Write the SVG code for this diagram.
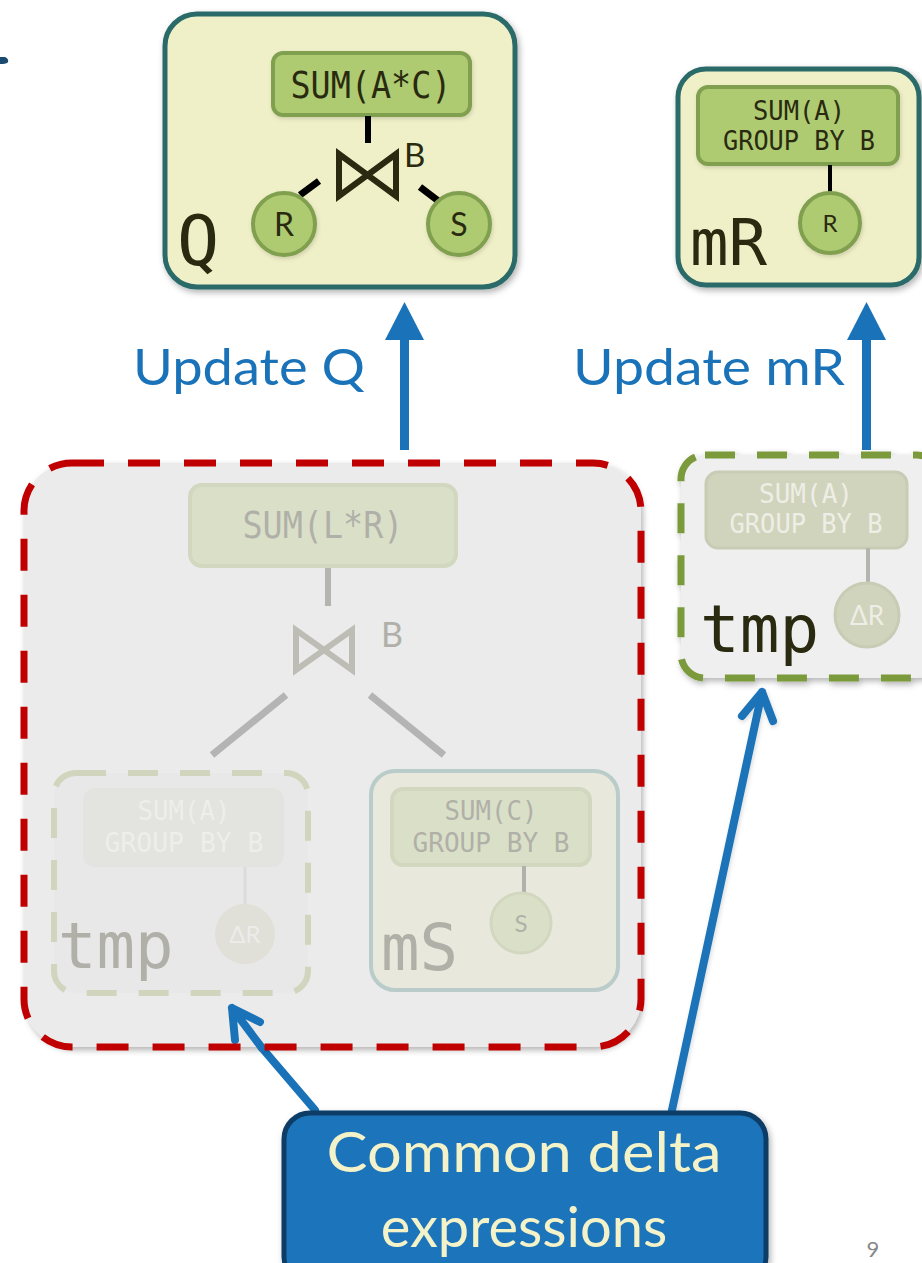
<svg xmlns="http://www.w3.org/2000/svg" width="922" height="1263" viewBox="0 0 922 1263">
<style>
.mono{font-family:"DejaVu Sans Mono","Liberation Mono",monospace}
.sans{font-family:Lato,"Liberation Sans",sans-serif}
.op{fill:#aecb72;stroke:#80a050;stroke-width:4}
.leaf{fill:#aecb72;stroke:#80a050;stroke-width:4}
.dark{fill:#2a2a10}
.blue{fill:#1a73b8}
.fop{fill:#dae0c8;stroke:#d2d8c0;stroke-width:4}
.ftxt{fill:#b0b0a8}
.conn{stroke:#1a73b8;stroke-width:8;fill:none;stroke-linecap:round;stroke-linejoin:round}
</style>
<defs>
<filter id="sh" x="-20%" y="-20%" width="140%" height="140%">
<feDropShadow dx="2" dy="3" stdDeviation="3" flood-color="#000" flood-opacity="0.3"/>
</filter>
<filter id="sh2" x="-20%" y="-20%" width="140%" height="140%">
<feDropShadow dx="1" dy="2" stdDeviation="2" flood-color="#000" flood-opacity="0.15"/>
</filter>
</defs>
<rect width="922" height="1263" fill="#ffffff"/>
<path d="M0,57 L5,57 Q9,59 8,62 Q7,64 0,64 Z" fill="#1a4a70"/>

<g id="connectors">
<path class="conn" d="M315,1110 L262,1048"/>
<path class="conn" d="M672,1110 L762,692 M742,716 L762,692 L773,721" filter="url(#sh2)"/>
<rect x="400" y="338" width="9" height="112" fill="#1a73b8"/>
<polygon points="385,340 424,340 404.5,302" fill="#1a73b8"/>
<rect x="862" y="338" width="9" height="112" fill="#1a73b8"/>
<polygon points="847,340 886,340 866.5,302" fill="#1a73b8"/>
</g>

<g id="nodeQ">
<rect x="165" y="14" width="350" height="273" rx="32" fill="#f0f0c8" stroke="#2b6b69" stroke-width="5" filter="url(#sh)"/>
<rect x="273" y="53" width="197" height="62" rx="10" class="op" filter="url(#sh2)"/>
<text x="371" y="98" text-anchor="middle" class="mono dark" font-size="38" textLength="161" lengthAdjust="spacingAndGlyphs">SUM(A*C)</text>
<line x1="368" y1="116" x2="368" y2="143" stroke="#000" stroke-width="6"/>
<path d="M339,154 L339,196 L396,154 L396,196 Z" fill="none" stroke="#2a2a10" stroke-width="6" stroke-linejoin="miter"/>
<text x="404" y="167" class="sans dark" font-size="33">B</text>
<line x1="300" y1="195" x2="319" y2="181" stroke="#000" stroke-width="7"/>
<line x1="420" y1="187" x2="441" y2="203" stroke="#000" stroke-width="7"/>
<circle cx="284" cy="224" r="31" class="leaf" filter="url(#sh2)"/>
<text x="284" y="236" text-anchor="middle" class="sans dark" font-size="32">R</text>
<circle cx="459" cy="224" r="31" class="leaf" filter="url(#sh2)"/>
<text x="459" y="236" text-anchor="middle" class="sans dark" font-size="32">S</text>
<text x="177" y="265" class="mono dark" font-size="70">Q</text>
</g>

<g id="nodeMR">
<rect x="678" y="69" width="241" height="216" rx="28" fill="#f0f0c8" stroke="#2b6b69" stroke-width="5" filter="url(#sh)"/>
<rect x="698" y="87" width="200" height="77" rx="10" class="op" filter="url(#sh2)"/>
<text x="799" y="120" text-anchor="middle" class="mono dark" font-size="26" textLength="92" lengthAdjust="spacingAndGlyphs">SUM(A)</text>
<text x="799" y="150" text-anchor="middle" class="mono dark" font-size="26" textLength="152" lengthAdjust="spacingAndGlyphs">GROUP BY B</text>
<line x1="830" y1="165" x2="830" y2="193" stroke="#000" stroke-width="4"/>
<circle cx="830" cy="223" r="30" class="leaf" filter="url(#sh2)"/>
<text x="830" y="232" text-anchor="middle" class="sans dark" font-size="24">R</text>
<text x="690" y="265" class="mono dark" font-size="64">mR</text>
</g>

<text x="133" y="385" class="sans blue" font-size="50" textLength="232" lengthAdjust="spacingAndGlyphs">Update Q</text>
<text x="573" y="385" class="sans blue" font-size="50" textLength="272" lengthAdjust="spacingAndGlyphs">Update mR</text>

<g id="deltaQ">
<rect x="24" y="463" width="617" height="584" rx="48" fill="#ebebeb" filter="url(#sh)"/>
<path class="conn" d="M262,1048 L232,1008 M235,1040 L232,1008 L260,1022" stroke="#b0cce2"/>
<rect x="24" y="463" width="617" height="584" rx="48" fill="none" stroke="#c00000" stroke-width="7" stroke-dasharray="32 24"/>
<rect x="190" y="485" width="266" height="81" rx="12" class="fop"/>
<text x="323" y="538" text-anchor="middle" class="mono ftxt" font-size="38" textLength="161" lengthAdjust="spacingAndGlyphs">SUM(L*R)</text>
<line x1="328" y1="568" x2="328" y2="606" stroke="#b4b4b0" stroke-width="6"/>
<path d="M296,630 L296,670 L352,630 L352,670 Z" fill="none" stroke="#bdbdb5" stroke-width="6"/>
<text x="381" y="647" class="sans ftxt" font-size="34">B</text>
<line x1="286" y1="695" x2="212" y2="755" stroke="#b4b4b4" stroke-width="7"/>
<line x1="370" y1="695" x2="444" y2="755" stroke="#b4b4b4" stroke-width="7"/>

<g id="tmpL">
<rect x="54" y="773" width="254" height="220" rx="22" fill="#e8e8e8" stroke="#d2d5bd" stroke-width="6" stroke-dasharray="30 22"/>
<rect x="83" y="788" width="201" height="79" rx="12" fill="#e3e3e0"/>
<text x="184" y="820" text-anchor="middle" class="mono" fill="#eeeeea" font-size="26" textLength="93" lengthAdjust="spacingAndGlyphs">SUM(A)</text>
<text x="184" y="852" text-anchor="middle" class="mono" fill="#eeeeea" font-size="26" textLength="159" lengthAdjust="spacingAndGlyphs">GROUP BY B</text>
<line x1="245" y1="867" x2="245" y2="905" stroke="#dcdcd8" stroke-width="3"/>
<circle cx="245" cy="934" r="30" fill="#e0e0d8"/>
<text x="245" y="943" text-anchor="middle" class="sans" fill="#ececea" font-size="24">ΔR</text>
<text x="58" y="968" class="mono ftxt" font-size="64">tmp</text>
</g>

<g id="mS">
<rect x="371" y="771" width="247" height="219" rx="24" fill="#e8e8dc" stroke="#b9ccc9" stroke-width="4"/>
<rect x="392" y="789" width="198" height="76" rx="11" class="fop"/>
<text x="491" y="820" text-anchor="middle" class="mono ftxt" font-size="26" textLength="93" lengthAdjust="spacingAndGlyphs">SUM(C)</text>
<text x="491" y="852" text-anchor="middle" class="mono ftxt" font-size="26" textLength="157" lengthAdjust="spacingAndGlyphs">GROUP BY B</text>
<line x1="524" y1="866" x2="524" y2="893" stroke="#b0b0ac" stroke-width="4"/>
<circle cx="521" cy="923" r="30" fill="#dae0c8" stroke="#d2d8c0" stroke-width="3"/>
<text x="521" y="932" text-anchor="middle" class="sans ftxt" font-size="24">S</text>
<text x="381" y="970" class="mono ftxt" font-size="64">mS</text>
</g>
</g>

<g id="tmpR">
<rect x="681" y="455" width="260" height="223" rx="24" fill="#efefef" stroke="#7a9a3a" stroke-width="7" stroke-dasharray="30 22" filter="url(#sh)"/>
<rect x="706" y="472" width="201" height="76" rx="12" fill="#d0d4bc" stroke="#c8ccb4" stroke-width="3"/>
<text x="806" y="503" text-anchor="middle" class="mono" fill="#eeeee6" font-size="26" textLength="94" lengthAdjust="spacingAndGlyphs">SUM(A)</text>
<text x="806" y="533" text-anchor="middle" class="mono" fill="#eeeee6" font-size="26" textLength="153" lengthAdjust="spacingAndGlyphs">GROUP BY B</text>
<line x1="868" y1="548" x2="868" y2="585" stroke="#b4b4b0" stroke-width="4"/>
<circle cx="867" cy="615" r="32" fill="#d0d4bc" stroke="#c8ccb4" stroke-width="3"/>
<text x="867" y="625" text-anchor="middle" class="sans" fill="#eeeee6" font-size="26">ΔR</text>
<text x="700" y="652" class="mono dark" font-size="66">tmp</text>
</g>

<g id="common">
<rect x="284" y="1113" width="482" height="170" rx="26" fill="#1a75bb" stroke="#0d3d66" stroke-width="5" filter="url(#sh)"/>
<text x="524" y="1172" text-anchor="middle" class="sans" fill="#f4f2c8" font-size="56" textLength="395" lengthAdjust="spacingAndGlyphs">Common delta</text>
<text x="524" y="1247" text-anchor="middle" class="sans" fill="#f4f2c8" font-size="56">expressions</text>
</g>

<text x="873" y="1257" text-anchor="middle" class="sans" fill="#888888" font-size="22">9</text>
</svg>
